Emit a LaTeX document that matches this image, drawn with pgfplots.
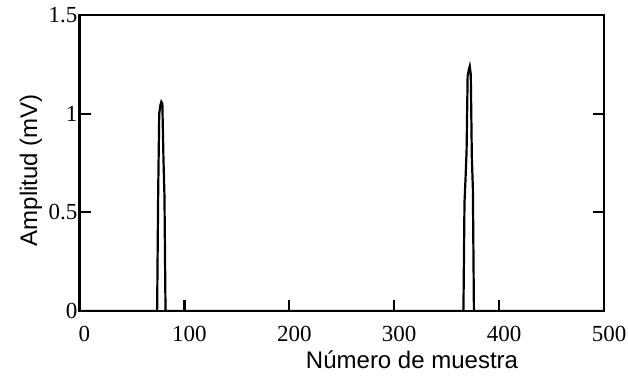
\documentclass[border=0pt]{standalone}
\usepackage{fontspec}
\setmainfont{Liberation Serif}
\newfontfamily\arial{Liberation Sans}
\usepackage{pgfplots}
\pgfplotsset{compat=1.18}
\begin{document}
\begin{tikzpicture}
\useasboundingbox (-79.5bp,-69bp) rectangle (548.5bp,311bp);
\begin{axis}[
 at={(0,0)}, anchor=south west,
 scale only axis, width=524.5bp, height=296bp,
 xmin=0, xmax=500, ymin=0, ymax=1.5,
 xtick={0,100,...,500}, ytick={0,0.5,1,1.5},
 tick align=inside, xtick pos=bottom, ytick pos=both,
 major tick length=11bp,
 tick style={black, line width=2.2bp},
 axis line style={line width=2.2bp},
 /pgf/number format/assume math mode=true,
 ticklabel style={font=\fontsize{23bp}{27bp}\selectfont},
 xticklabel style={inner sep=0pt, yshift=-15bp, xshift=5bp, anchor=north},
 yticklabel style={inner sep=0pt, xshift=-2bp, anchor=east},
 xlabel={Número de muestra}, ylabel={Amplitud (mV)},
 label style={font=\arial\fontsize{24bp}{28bp}\selectfont},
 xlabel style={at={(axis description cs:0.634,-0.1926)}, anchor=base},
 ylabel style={at={(axis description cs:-0.0925,0.476)}, anchor=center},
]
\addplot[black, line width=2.2bp, mark=none] coordinates {
(0,0) (74,0) (75,0.6) (76,1.0) (77,1.04) (78,1.06) (79,1.05) (80,0.78) (81,0.58) (82,0)
(366,0) (367,0.55) (368,0.67) (369,0.81) (370,1.19) (371,1.22) (372,1.24) (373,1.2) (374,0.78) (375,0.62) (376,0)
(500,0)
};
\end{axis}
\end{tikzpicture}
\end{document}
